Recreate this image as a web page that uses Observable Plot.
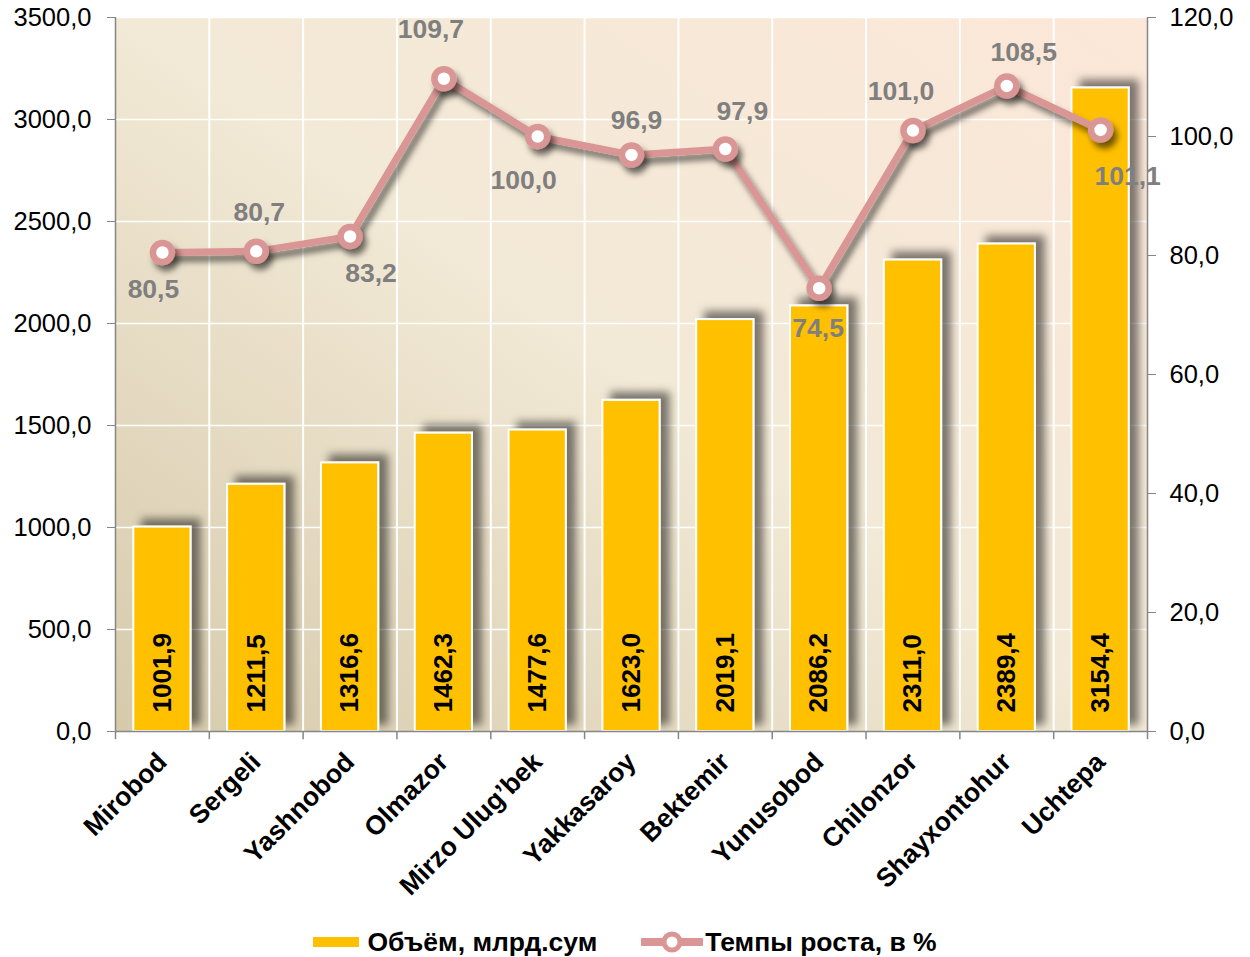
<!DOCTYPE html>
<html><head><meta charset="utf-8">
<script src="https://cdn.jsdelivr.net/npm/d3@7"></script>
<script src="https://cdn.jsdelivr.net/npm/@observablehq/plot@0.6"></script>
<style>
body{margin:0;background:#fff;font-family:"Liberation Sans",Arial,sans-serif;}
#legend{display:flex;justify-content:center;align-items:center;height:36px;padding-top:4px;font-weight:bold;font-size:26.5px;color:#000;}
#legend .bsw{display:inline-block;width:46px;height:10px;background:#ffc000;margin-right:8px;}
#legend .lsw{margin-left:44px;margin-right:2px;}
</style></head><body><div id="chart"></div>
<div id="legend"><span class="bsw"></span><span>Объём, млрд.сум</span><svg class="lsw" width="62" height="26"><line x1="2" y1="13" x2="60" y2="13" stroke="#d99694" stroke-width="8" stroke-linecap="round"/><circle cx="31" cy="13" r="8" fill="white" stroke="#d99694" stroke-width="5"/></svg><span>Темпы роста, в %</span></div>
<script>
const districts = ["Mirobod","Sergeli","Yashnobod","Olmazor","Mirzo Ulug’bek","Yakkasaroy","Bektemir","Yunusobod","Chilonzor","Shayxontohur","Uchtepa"];
const volume = [1001.9,1211.5,1316.6,1462.3,1477.6,1623.0,2019.1,2086.2,2311.0,2389.4,3154.4];
const growth = [80.5,80.7,83.2,109.7,100.0,96.9,97.9,74.5,101.0,108.5,101.1];
const leftTicks = [0,500,1000,1500,2000,2500,3000,3500];
const rightTicks = [0,20,40,60,80,100,120];

const W = 1250, H = 920, ML = 115, MR = 103, MT = 17, MB = 189;
const step = (W - ML - MR) / districts.length;
const k = 3500 / 120;
const fmt = v => v.toFixed(1).replace(".", ",");
const labelOffsets = [[-9,37],[3,-39],[21,37],[-13,-49],[-14,44],[5,-34],[17,-37],[-1,40],[-12,-39],[17,-33],[27,47]];
const rows = districts.map((d,i)=>({district:d, volume:volume[i], growth:growth[i], gy:growth[i]*k}));
const axisGray = "#868686";
const pink = "#d99694";

const chart = Plot.plot({
  width: W, height: H, marginLeft: ML, marginRight: MR, marginTop: MT, marginBottom: MB,
  style: {fontFamily: "Liberation Sans, Arial, sans-serif", fontSize: "25px", color: "black", background: "transparent"},
  x: {domain: districts, paddingInner: 0.39, paddingOuter: 0.195, round: false, label: null},
  y: {domain: [0,3500], label: null},
  marks: [
    Plot.frame({fill: "url(#bgGrad)", stroke: null}),
    Plot.ruleY(leftTicks.slice(1), {stroke: "white", strokeWidth: 1.5}),
    Plot.ruleX(districts.slice(0,-1), {x: d=>d, dx: step/2, stroke: "white", strokeWidth: 2}),
    Plot.barY(rows, {x: "district", y: "volume", fill: "#ffc000", stroke: "white", strokeWidth: 2}),
    Plot.text(rows, {x: "district", y: 0, text: d=>fmt(d.volume), rotate: -90, textAnchor: "start", lineAnchor: "middle", dy: -19, fontWeight: "bold", fontSize: 26, fill: "black"}),
    Plot.ruleY([0], {stroke: axisGray, strokeWidth: 1.5}),
    Plot.ruleX([districts[0]], {x: d=>d, dx: -step/2, y1: 0, y2: 3500, stroke: axisGray, strokeWidth: 1.5}),
    Plot.ruleX([districts[districts.length-1]], {x: d=>d, dx: step/2, y1: 0, y2: 3500, stroke: axisGray, strokeWidth: 1.5}),
    Plot.ruleX(districts, {x: d=>d, dx: step/2, y1: 0, y2: -40, stroke: axisGray, strokeWidth: 1.5}),
    Plot.ruleX([districts[0]], {x: d=>d, dx: -step/2, y1: 0, y2: -40, stroke: axisGray, strokeWidth: 1.5}),
    Plot.axisY(leftTicks, {anchor: "left", tickSize: 8, tickPadding: 16, tickFormat: fmt, stroke: axisGray, fill: "black", fontSize: 25.5, label: null}),
    Plot.axisY(rightTicks.map(v=>v*k), {anchor: "right", tickSize: 8, tickPadding: 14, tickFormat: v=>fmt(v/k), stroke: axisGray, fill: "black", fontSize: 25.5, label: null}),
    Plot.axisX({tickSize: 0, tickRotate: -45, tickPadding: 26, fontWeight: "bold", fontSize: 26.5, fill: "black", label: null}),
    Plot.line(rows, {x: "district", y: "gy", stroke: pink, strokeWidth: 7}),
    Plot.dot(rows, {x: "district", y: "gy", r: 9.5, fill: "white", stroke: pink, strokeWidth: 6.5}),
    ...rows.map((r,i)=>Plot.text([r], {x: "district", y: "gy", text: d=>fmt(d.growth), dx: labelOffsets[i][0], dy: labelOffsets[i][1], fontWeight: "bold", fontSize: 26.5, fill: "#7f7f7f"}))
  ]
});
const defs = document.createElementNS("http://www.w3.org/2000/svg","defs");
defs.innerHTML = `
<linearGradient id="bgGrad" x1="0" y1="1" x2="1" y2="0">
  <stop offset="0" stop-color="#d6caab"/>
  <stop offset="0.5" stop-color="#f2e9d6"/>
  <stop offset="1" stop-color="#fce7d8"/>
</linearGradient>
<filter id="barShadow" x="-20%" y="-20%" width="140%" height="140%">
  <feDropShadow dx="9" dy="-7" stdDeviation="4" flood-color="#000" flood-opacity="0.5"/>
</filter>
<filter id="lineShadow" x="-20%" y="-20%" width="140%" height="140%">
  <feDropShadow dx="4" dy="6" stdDeviation="3" flood-color="#000" flood-opacity="0.55"/>
</filter>`;
chart.insertBefore(defs, chart.firstChild);
chart.querySelectorAll('g[aria-label="bar"]').forEach(g=>g.setAttribute("filter","url(#barShadow)"));
chart.querySelectorAll('g[aria-label="line"], g[aria-label="dot"]').forEach(g=>g.setAttribute("filter","url(#lineShadow)"));
document.getElementById("chart").appendChild(chart);
</script>
</body></html>
